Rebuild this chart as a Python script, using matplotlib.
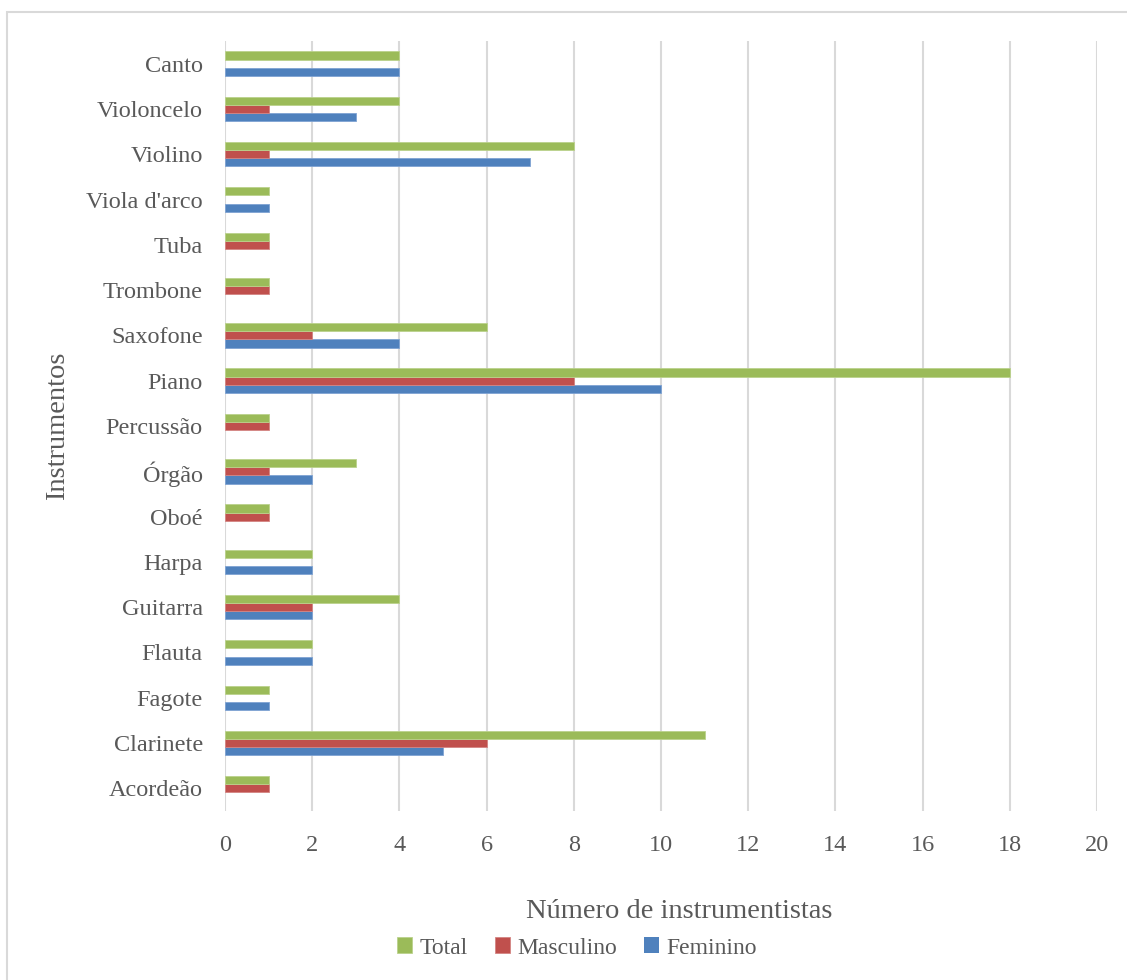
import numpy as np
import matplotlib.pyplot as plt
from matplotlib.patches import Rectangle

# Dados (de baixo para cima, como no gráfico)
instrumentos = ['Acordeão', 'Clarinete', 'Fagote', 'Flauta', 'Guitarra', 'Harpa',
                'Oboé', 'Órgão', 'Percussão', 'Piano', 'Saxofone', 'Trombone',
                'Tuba', "Viola d'arco", 'Violino', 'Violoncelo', 'Canto']
feminino = [0, 5, 1, 2, 2, 2, 0, 2, 0, 10, 4, 0, 0, 1, 7, 3, 4]
masculino = [1, 6, 0, 0, 2, 0, 1, 1, 1, 8, 2, 1, 1, 0, 1, 1, 0]
total = [1, 11, 1, 2, 4, 2, 1, 3, 1, 18, 6, 1, 1, 1, 8, 4, 4]
xticks = [0, 2, 4, 6, 8, 10, 12, 14, 16, 18, 20]

plt.rcParams['font.family'] = ['Liberation Serif', 'DejaVu Serif']
cor_texto = '#595959'
cor_grade = '#D9D9D9'

fig = plt.figure(figsize=(11.27, 9.8), dpi=100)
ax = fig.add_axes([225 / 1127, 1 - 811 / 980, 872 / 1127, 770 / 980])

y = np.arange(len(instrumentos))
h = 0.18
series = [(feminino, -h, '#4F81BD', '#7FA3D3', 'Feminino'),
          (masculino, 0, '#C0504D', '#D48583', 'Masculino'),
          (total, h, '#9BBB59', '#BBD28C', 'Total')]
for vals, off, cor, borda, nome in series:
    bordas = [borda if v > 0 else 'none' for v in vals]
    ax.barh(y + off, vals, height=h, color=cor, edgecolor=bordas,
            linewidth=0.6, label=nome, zorder=3)

ax.set_xlim(0, 20)
ax.set_ylim(-0.5, len(instrumentos) - 0.5)
ax.set_xticks(xticks)
ax.set_yticks(y)
ax.set_yticklabels(instrumentos)
ax.tick_params(axis='both', length=0, labelsize=17.5, colors=cor_texto)
ax.tick_params(axis='x', pad=17)
ax.tick_params(axis='y', pad=16)
ax.grid(axis='x', color=cor_grade, linewidth=1.5, zorder=0)
for s in ax.spines.values():
    s.set_visible(False)

ax.set_ylabel('Instrumentos', fontsize=20.5, color=cor_texto, va='center')
ax.yaxis.set_label_coords(-(225 - 58) / 872, 0.5)

fig.text(679 / 1127, 1 - 912 / 980, 'Número de instrumentistas', ha='center', va='center',
         fontsize=20.5, color=cor_texto)

handles, labels = ax.get_legend_handles_labels()
leg = fig.legend(handles[::-1], labels[::-1], loc='center', ncol=3,
                 bbox_to_anchor=(577 / 1127, 1 - 948 / 980), frameon=False,
                 fontsize=17, handlelength=0.65, handleheight=0.65,
                 handletextpad=0.3, columnspacing=1.15)
for t in leg.get_texts():
    t.set_color(cor_texto)

# Moldura da área do gráfico
fig.patches.append(Rectangle((7 / 1127, -0.05), 1.2, 1 - 12 / 980 + 0.05,
                             transform=fig.transFigure, fill=False,
                             edgecolor=cor_grade, linewidth=1.5))

fig.savefig('out.png', dpi=100)
